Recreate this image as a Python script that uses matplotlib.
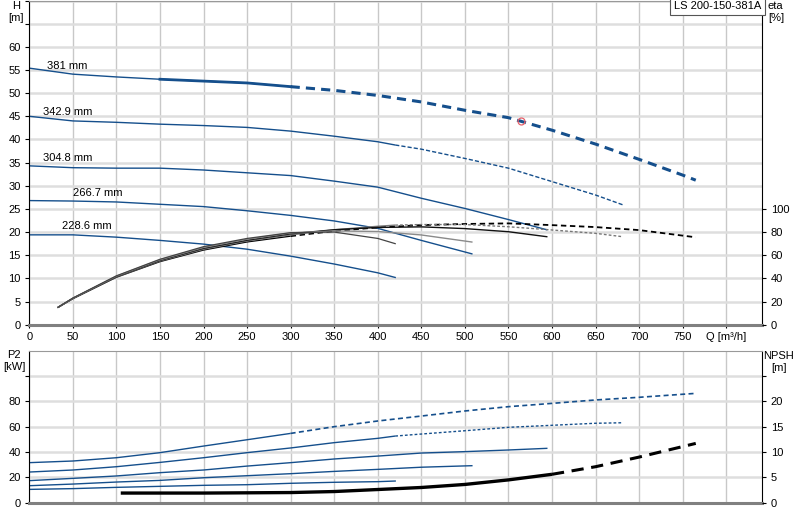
import numpy as np
import matplotlib
matplotlib.use("Agg")
import matplotlib.pyplot as plt

plt.rcParams['font.family'] = ['Liberation Sans', 'DejaVu Sans']

# impeller diameters
diam_labels = ['381 mm', '342.9 mm', '304.8 mm', '266.7 mm', '228.6 mm']

# head curves H [m] vs Q [m3/h]
Q_381 = [0, 50, 100, 150, 200, 250, 300, 350, 400, 450, 500, 550, 600, 650, 700, 750, 765]
H_381 = [55.4, 54.1, 53.5, 53.0, 52.6, 52.2, 51.4, 50.6, 49.5, 48.1, 46.3, 44.7, 42.0, 39.0, 35.7, 32.3, 31.2]
Q_343 = [0, 50, 100, 150, 200, 250, 300, 350, 400, 420, 450, 500, 550, 600, 650, 681]
H_343 = [45.0, 44.0, 43.7, 43.3, 43.0, 42.6, 41.8, 40.7, 39.5, 38.8, 37.9, 35.9, 33.8, 30.9, 28.0, 25.9]
Q_305 = [0, 50, 100, 150, 200, 250, 300, 350, 400, 450, 500, 550, 594]
H_305 = [34.3, 33.9, 33.8, 33.8, 33.4, 32.8, 32.2, 31.0, 29.7, 27.3, 25.1, 22.7, 20.5]
Q_267 = [0, 50, 100, 150, 200, 250, 300, 350, 400, 450, 508]
H_267 = [26.8, 26.7, 26.5, 26.0, 25.5, 24.6, 23.6, 22.4, 20.8, 18.2, 15.3]
Q_229 = [0, 50, 100, 150, 200, 250, 300, 350, 400, 420]
H_229 = [19.4, 19.4, 18.9, 18.2, 17.4, 16.3, 14.8, 13.1, 11.2, 10.2]

# efficiency curves eta [%]
Qe_381 = [33, 50, 100, 150, 200, 250, 300, 350, 400, 450, 500, 550, 600, 650, 700, 765]
eta_381 = [15, 22.5, 41, 54.5, 64.5, 71.5, 76.5, 81, 84, 86, 87, 87.5, 86, 84.3, 81.7, 75.5]
Qe_343 = [33, 50, 100, 150, 200, 250, 300, 350, 400, 420, 450, 500, 550, 600, 650, 681]
eta_343 = [15, 22.5, 41.3, 55, 65.2, 72.3, 77.5, 82, 85, 86, 86.5, 86.5, 84.6, 81.8, 78.9, 76]
Qe_305 = [33, 50, 100, 150, 200, 250, 300, 350, 400, 450, 500, 550, 594]
eta_305 = [15, 22.7, 41.6, 55.5, 66, 73, 78.5, 82, 84, 84.5, 83, 80.3, 76]
Qe_267 = [33, 50, 100, 150, 200, 250, 300, 350, 400, 450, 508]
eta_267 = [15, 22.8, 41.9, 56, 66.7, 73.8, 79.2, 81, 80.5, 77.5, 71.4]
Qe_229 = [33, 50, 100, 150, 200, 250, 300, 350, 400, 420]
eta_229 = [15, 23, 42.2, 56.5, 67.4, 74.5, 79.5, 80, 74.5, 70]

# shaft power P2 [kW]
P_381 = [31.6, 32.9, 35.5, 39.5, 44.7, 49.7, 54.7, 60.0, 64.5, 68.4, 72.4, 75.8, 78.4, 81.1, 83.2, 85.6, 86.3]
P_343 = [24.2, 25.8, 28.4, 31.8, 35.5, 39.5, 43.2, 47.4, 50.8, 52.6, 54.2, 56.8, 59.5, 61.1, 62.7, 63.1]
P_305 = [17.4, 19.2, 21.1, 23.7, 25.8, 28.9, 31.6, 34.5, 36.8, 39.2, 40.3, 41.6, 42.9]
P_267 = [13.4, 14.7, 16.3, 17.6, 19.7, 21.3, 22.9, 24.7, 26.3, 28.0, 29.2]
P_229 = [10.5, 11.1, 12.1, 12.9, 13.7, 14.2, 15.3, 16.1, 16.6, 17.1]

# NPSH [m]
Q_npsh = [105, 150, 200, 250, 300, 350, 400, 450, 500, 550, 600, 650, 700, 765]
npsh = [1.9, 1.9, 1.9, 1.95, 2.0, 2.2, 2.6, 3.0, 3.6, 4.5, 5.6, 7.1, 9.0, 11.7]

# duty point
Q_duty, H_duty = 564, 44.0

blue = '#154f8c'
fs = 8


def split_plot(ax, q, v, q_split, color, lw, lw2, dash, **kw):
    q = np.asarray(q, float)
    v = np.asarray(v, float)
    m1 = q <= q_split
    m2 = q >= q_split
    ax.plot(q[m1], v[m1], color=color, lw=lw, solid_capstyle='butt', **kw)
    if m2.sum() > 1:
        ax.plot(q[m2], v[m2], color=color, lw=lw2, dashes=dash, **kw)


fig = plt.figure(figsize=(8, 5.2), dpi=100)
ax1 = fig.add_axes([0.0366, 0.3756, 0.9163, 0.6234])
ax2 = fig.add_axes([0.0366, 0.0333, 0.9163, 0.2923])
xmax = 841.4

for ax in (ax1, ax2):
    ax.set_xlim(0, xmax)
    ax.set_xticks(np.arange(0, 801, 50))
    ax.grid(axis='x', color='#c8c8c8', lw=1)
    ax.grid(axis='y', color='#dedede', lw=1.8)
    ax.set_axisbelow(True)
    ax.spines['left'].set_color('black')
    ax.spines['right'].set_color('black')
    ax.spines['top'].set_color('#999999')
    ax.spines['bottom'].set_color('#808080')
    ax.spines['bottom'].set_linewidth(2.2)
    ax.tick_params(labelsize=fs, length=3, width=0.8, colors='black', pad=3)

# top panel
ax1.set_ylim(0, 70)
ax1.set_yticks(np.arange(0, 71, 5))
ax1.set_yticklabels([str(v) if v <= 60 else '' for v in range(0, 71, 5)])
xl = [str(v) for v in range(0, 751, 50)] + ['Q [m\u00b3/h]']
ax1.set_xticklabels(xl)
ax1.tick_params(axis='x', length=2)

split_plot(ax1, Q_381, H_381, 300, blue, 1.0, 2.2, (3, 2))
ax1.plot(Q_381[3:7], H_381[3:7], color=blue, lw=2.0)
split_plot(ax1, Q_343, H_343, 420, blue, 1.0, 1.0, (3, 1.5))
ax1.plot(Q_305, H_305, color=blue, lw=1.0)
ax1.plot(Q_267, H_267, color=blue, lw=1.0)
ax1.plot(Q_229, H_229, color=blue, lw=1.0)
ax1.plot([Q_duty], [H_duty], 'o', ms=5, mfc='none', mec='#e8606a', mew=0.9)

lab_pos = [(20, 55.9), (16, 46.0), (16, 36.1), (50, 28.4), (37, 21.3)]
for txt, (qx, hy) in zip(diam_labels, lab_pos):
    ax1.text(qx, hy, txt, fontsize=fs, va='center', ha='left')

ax1.text(0.9985, 0.997, 'LS 200-150-381A', transform=ax1.transAxes, ha='right', va='top',
         fontsize=fs, bbox=dict(facecolor='white', edgecolor='#555555', boxstyle='square,pad=0.35', lw=0.8))

ax1r = ax1.twinx()
ax1r.set_ylim(0, 280)
ax1r.set_yticks(np.arange(0, 101, 20))
ax1r.tick_params(labelsize=fs, length=3, width=0.8, pad=3)
for s in ax1r.spines.values():
    s.set_visible(False)
split_plot(ax1r, Qe_381, eta_381, 300, 'black', 1.0, 1.3, (3, 2))
split_plot(ax1r, Qe_343, eta_343, 420, '#777777', 1.0, 1.0, (2, 1.5))
ax1r.plot(Qe_305, eta_305, color='#111111', lw=1.0)
ax1r.plot(Qe_267, eta_267, color='#8a8a8a', lw=1.0)
ax1r.plot(Qe_229, eta_229, color='#444444', lw=0.9)

# bottom panel
ax2.set_ylim(0, 120)
ax2.set_yticks(np.arange(0, 101, 20))
ax2.set_yticklabels(['0', '20', '40', '60', '80', ''])
ax2.set_xticklabels([])
ax2.tick_params(axis='x', length=0)

split_plot(ax2, Q_381, P_381, 300, blue, 1.0, 1.2, (3, 2))
split_plot(ax2, Q_343, P_343, 420, blue, 1.0, 1.0, (2, 1.5))
ax2.plot(Q_305, P_305, color=blue, lw=1.0)
ax2.plot(Q_267, P_267, color=blue, lw=1.0)
ax2.plot(Q_229, P_229, color=blue, lw=1.0)

ax2r = ax2.twinx()
ax2r.set_ylim(0, 30)
ax2r.set_yticks(np.arange(0, 26, 5))
ax2r.set_yticklabels(['0', '5', '10', '15', '20', ''])
ax2r.tick_params(labelsize=fs, length=3, width=0.8, pad=3)
for s in ax2r.spines.values():
    s.set_visible(False)
split_plot(ax2r, Q_npsh, npsh, 600, 'black', 2.4, 2.2, (4, 2.5))

# axis titles
fig.text(16 / 800, 1 - 6 / 520, 'H', fontsize=fs, ha='center', va='center')
fig.text(16 / 800, 1 - 18 / 520, '[m]', fontsize=fs, ha='center', va='center')
fig.text(768 / 800, 1 - 6 / 520, 'eta', fontsize=fs, ha='left', va='center')
fig.text(768 / 800, 1 - 18 / 520, '[%]', fontsize=fs, ha='left', va='center')
fig.text(14 / 800, 1 - 355 / 520, 'P2', fontsize=fs, ha='center', va='center')
fig.text(14 / 800, 1 - 367 / 520, '[kW]', fontsize=fs, ha='center', va='center')
fig.text(779 / 800, 1 - 356 / 520, 'NPSH', fontsize=fs, ha='center', va='center')
fig.text(779 / 800, 1 - 368 / 520, '[m]', fontsize=fs, ha='center', va='center')

fig.savefig('out.png', dpi=100)
